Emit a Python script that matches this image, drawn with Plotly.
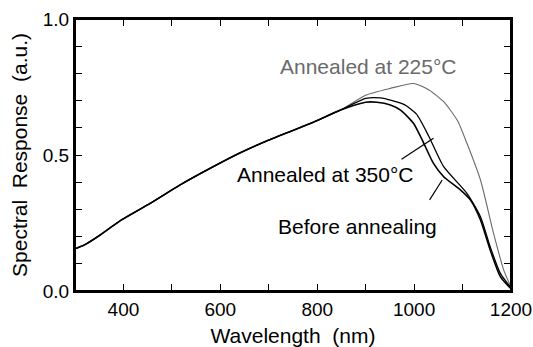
import plotly.graph_objects as go

# Wavelength (nm) and spectral response (a.u.)
wl_common = [300, 320, 352, 393, 455, 517, 579, 641, 700, 786, 848]
resp_common = [0.155, 0.170, 0.206, 0.258, 0.322, 0.390, 0.451, 0.508, 0.555, 0.616, 0.665]

wl_225 = [900, 951, 999, 1030, 1061, 1090, 1109, 1137, 1164, 1185, 1200]
resp_225 = [0.720, 0.745, 0.763, 0.740, 0.696, 0.625, 0.543, 0.408, 0.212, 0.077, 0.015]

wl_350 = [900, 930, 955, 980, 1005, 1030, 1061, 1109, 1137, 1157, 1178, 1200]
resp_350 = [0.708, 0.710, 0.700, 0.685, 0.650, 0.570, 0.457, 0.359, 0.273, 0.163, 0.065, 0.012]

wl_before = [900, 923, 951, 972, 999, 1020, 1040, 1061, 1096, 1116, 1137, 1157, 1178, 1200]
resp_before = [0.694, 0.694, 0.684, 0.665, 0.616, 0.543, 0.469, 0.420, 0.371, 0.335, 0.261, 0.151, 0.053, 0.008]

x_tickvals = [300, 400, 500, 600, 700, 800, 900, 1000, 1100, 1200]
x_ticktext = ["", "400", "", "600", "", "800", "", "1000", "", "1200"]
y_tickvals = [0.0, 0.1, 0.2, 0.3, 0.4, 0.5, 0.6, 0.7, 0.8, 0.9, 1.0]
y_ticktext = ["0.0", "", "", "", "", "0.5", "", "", "", "", "1.0"]

FONT = "Liberation Sans, Arial, Helvetica, sans-serif"

fig = go.Figure()
fig.add_trace(go.Scatter(x=wl_common + wl_225, y=resp_common + resp_225, mode="lines",
                         line=dict(color="#6a6a6a", width=1.1, shape="spline", smoothing=0.6)))
fig.add_trace(go.Scatter(x=wl_common + wl_350, y=resp_common + resp_350, mode="lines",
                         line=dict(color="#000000", width=1.3, shape="spline", smoothing=0.6)))
fig.add_trace(go.Scatter(x=wl_common + wl_before, y=resp_common + resp_before, mode="lines",
                         line=dict(color="#000000", width=1.6, shape="spline", smoothing=0.6)))

fig.add_annotation(x=1092, y=0.825, xref="x", yref="y", text="Annealed at 225°C",
                   showarrow=False, xanchor="right", yanchor="middle",
                   font=dict(family=FONT, size=21, color="#6a6a6a"))
fig.add_annotation(x=1003, y=0.430, xref="x", yref="y", text="Annealed at 350°C",
                   showarrow=False, xanchor="right", yanchor="middle",
                   font=dict(family=FONT, size=21, color="#000000"))
fig.add_annotation(x=1051, y=0.237, xref="x", yref="y", text="Before annealing",
                   showarrow=False, xanchor="right", yanchor="middle",
                   font=dict(family=FONT, size=21, color="#000000"))
fig.add_shape(type="line", x0=974, y0=0.484, x1=1040, y1=0.562, xref="x", yref="y",
              line=dict(color="#000000", width=1.2))
fig.add_shape(type="line", x0=1032, y0=0.335, x1=1058, y1=0.408, xref="x", yref="y",
              line=dict(color="#000000", width=1.2))
# plot frame
fig.add_shape(type="rect", x0=0, y0=0, x1=1, y1=1, xref="x domain", yref="y domain",
              line=dict(color="#000000", width=2), fillcolor="rgba(0,0,0,0)", layer="above")

xaxis = dict(range=[300, 1200], tickmode="array", tickvals=x_tickvals, ticktext=x_ticktext,
             ticks="inside", ticklen=7, tickwidth=1.3, tickcolor="#000000",
             showline=True, linecolor="#000000", linewidth=2, mirror="allticks",
             showgrid=False, zeroline=False,
             tickfont=dict(size=19, family=FONT, color="#000000"),
             title=dict(text="Wavelength\u00a0\u00a0(nm)", font=dict(size=21, family=FONT), standoff=14))
yaxis = dict(range=[0, 1.0], tickmode="array", tickvals=y_tickvals, ticktext=y_ticktext,
             ticks="inside", ticklen=7, tickwidth=1.3, tickcolor="#000000",
             showline=True, linecolor="#000000", linewidth=2, mirror="allticks",
             showgrid=False, zeroline=False,
             tickfont=dict(size=19, family=FONT, color="#000000"),
             title=dict(text="Spectral\u00a0\u00a0Response\u00a0\u00a0(a.u.)", font=dict(size=21, family=FONT), standoff=9))

fig.update_layout(
    width=533, height=347,
    margin=dict(l=75, r=22, t=19, b=56, autoexpand=False),
    paper_bgcolor="white", plot_bgcolor="white",
    showlegend=False,
    font=dict(family=FONT, color="#000000"),
    xaxis=xaxis, yaxis=yaxis,
)

fig.write_html("out.html")
